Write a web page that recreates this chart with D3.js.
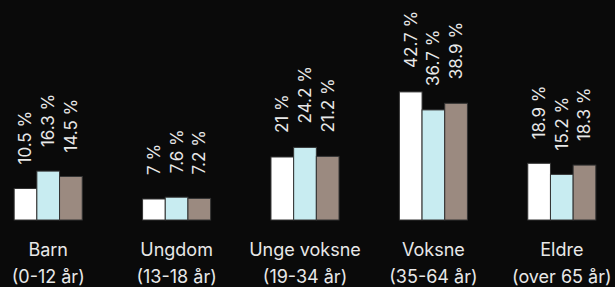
<!DOCTYPE html>
<html>
<head>
<meta charset="utf-8">
<script src="https://cdn.jsdelivr.net/npm/d3@7"></script>
<style>
  html, body { margin: 0; padding: 0; background: #0a0a0a; }
  text { font-family: Inter, "Noto Sans", sans-serif; fill: #e8e8e8; font-weight: 400; }
</style>
</head>
<body>
<div id="chart"></div>
<script>
var svgWidth = 615;
var svgHeight = 287;

// categories (two-line labels)
var categories = ["Barn", "Ungdom", "Unge voksne", "Voksne", "Eldre"];
var subLabels = ["(0-12 år)", "(13-18 år)", "(19-34 år)", "(35-64 år)", "(over 65 år)"];

// three series
var series = ["s1", "s2", "s3"];
var s1Values = [10.5, 7, 21, 42.7, 18.9];
var s2Values = [16.3, 7.6, 24.2, 36.7, 15.2];
var s3Values = [14.5, 7.2, 21.2, 38.9, 18.3];
var colors = ["#ffffff", "#c8ecf1", "#9b8a80"];

var data = categories.map(function(c, i) {
  return { cat: c, sub: subLabels[i], values: [s1Values[i], s2Values[i], s3Values[i]] };
});

var svg = d3.select("#chart")
  .append("svg")
  .attr("width", svgWidth)
  .attr("height", svgHeight);

var baseline = 220;

//Scales
var x0 = d3.scaleBand()
  .domain(categories)
  .range([-16, 626])
  .paddingInner(0.47)
  .paddingOuter(0.235);

var x1 = d3.scaleBand()
  .domain(series)
  .range([0, x0.bandwidth()]);

var y = d3.scaleLinear()
  .domain([0, 45])
  .range([baseline, baseline - 135]);

var groups = svg.append("g").selectAll("g")
  .data(data)
  .enter()
  .append("g")
  .attr("transform", d => `translate(${x0(d.cat)},0)`);

// bars
groups.selectAll("rect")
  .data(d => d.values.map((v, j) => ({ key: series[j], v: v, j: j })))
  .enter()
  .append("rect")
  .attr("x", d => x1(d.key))
  .attr("y", d => y(d.v))
  .attr("width", x1.bandwidth())
  .attr("height", d => baseline - y(d.v))
  .attr("fill", d => colors[d.j])
  .attr("stroke", "#333")
  .attr("stroke-width", 1);

// value labels
groups.selectAll("text.val")
  .data(d => d.values.map((v, j) => ({ key: series[j], v: v })))
  .enter()
  .append("text")
  .attr("class", "val")
  .attr("transform", d => `translate(${x1(d.key) + x1.bandwidth() / 2}, ${y(d.v) - 24}) rotate(-90)`)
  .attr("dy", "0.35em")
  .attr("font-size", 17)
  .text(d => String(d.v) + " %");

// category labels
groups.append("text")
  .attr("x", x0.bandwidth() / 2)
  .attr("y", 256)
  .attr("text-anchor", "middle")
  .attr("font-size", 18)
  .text(d => d.cat);

groups.append("text")
  .attr("x", x0.bandwidth() / 2)
  .attr("y", 283)
  .attr("text-anchor", "middle")
  .attr("font-size", 18)
  .text(d => d.sub);
</script>
</body>
</html>
